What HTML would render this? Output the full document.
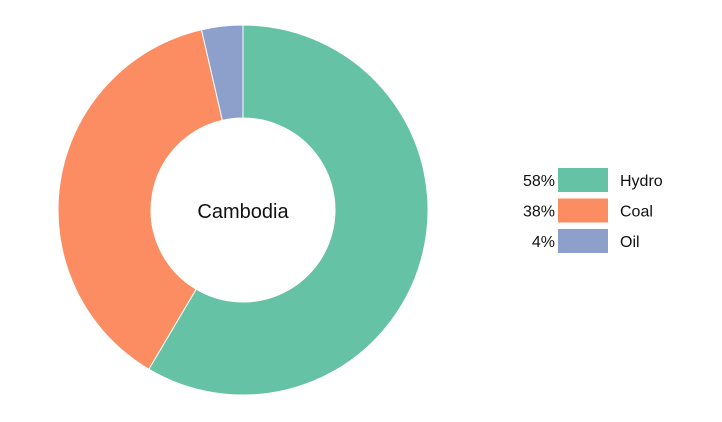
<!DOCTYPE html>
<html><head><meta charset="utf-8"><style>
body{margin:0;background:#fff;}
svg{display:block;font-family:"Liberation Sans",sans-serif;}
</style></head><body>
<svg id="chart" width="722" height="422">
<g id="slices"></g>
<text x="243" y="218" text-anchor="middle" font-size="20" fill="#111">Cambodia</text>
<g id="legend"></g>
</svg>
<script>
const categories = ["Hydro","Coal","Oil"];
const values = [58.5,37.9,3.6];
const labels = ["58%","38%","4%"];
const colors = ["#66c2a5","#fc8d62","#8da0cb"];
const cx=243, cy=210, R=185, r=92;
const ns="http://www.w3.org/2000/svg";
const total=values.reduce((a,b)=>a+b,0);
let a0=0;
const g=document.getElementById('slices');
function pt(rad,a){return [cx+rad*Math.sin(a), cy-rad*Math.cos(a)];}
values.forEach((v,i)=>{
  const a1=a0+v/total*2*Math.PI;
  const large=(a1-a0)>Math.PI?1:0;
  const [x0,y0]=pt(R,a0),[x1,y1]=pt(R,a1),[x2,y2]=pt(r,a1),[x3,y3]=pt(r,a0);
  const p=document.createElementNS(ns,'path');
  p.setAttribute('d',`M${x0},${y0}A${R},${R} 0 ${large} 1 ${x1},${y1}L${x2},${y2}A${r},${r} 0 ${large} 0 ${x3},${y3}Z`);
  p.setAttribute('fill',colors[i]);
  p.setAttribute('stroke','#fff');
  p.setAttribute('stroke-width','1');
  
  
  g.appendChild(p);
  a0=a1;
});
const lg=document.getElementById('legend');
categories.forEach((c,i)=>{
  const y=168+i*30.5;
  const rect=document.createElementNS(ns,'rect');
  rect.setAttribute('x',558);rect.setAttribute('y',y);
  rect.setAttribute('width',50);rect.setAttribute('height',24);
  rect.setAttribute('fill',colors[i]);
  
  
  lg.appendChild(rect);
  const t1=document.createElementNS(ns,'text');
  t1.setAttribute('x',555);t1.setAttribute('y',y+18);
  t1.setAttribute('text-anchor','end');t1.setAttribute('font-size','16');t1.setAttribute('fill','#111');
  t1.textContent=labels[i];
  
  
  lg.appendChild(t1);
  const t2=document.createElementNS(ns,'text');
  t2.setAttribute('x',620);t2.setAttribute('y',y+18);
  t2.setAttribute('font-size','16');t2.setAttribute('fill','#111');
  t2.textContent=c;
  
  
  lg.appendChild(t2);
});
</script>
</body></html>
